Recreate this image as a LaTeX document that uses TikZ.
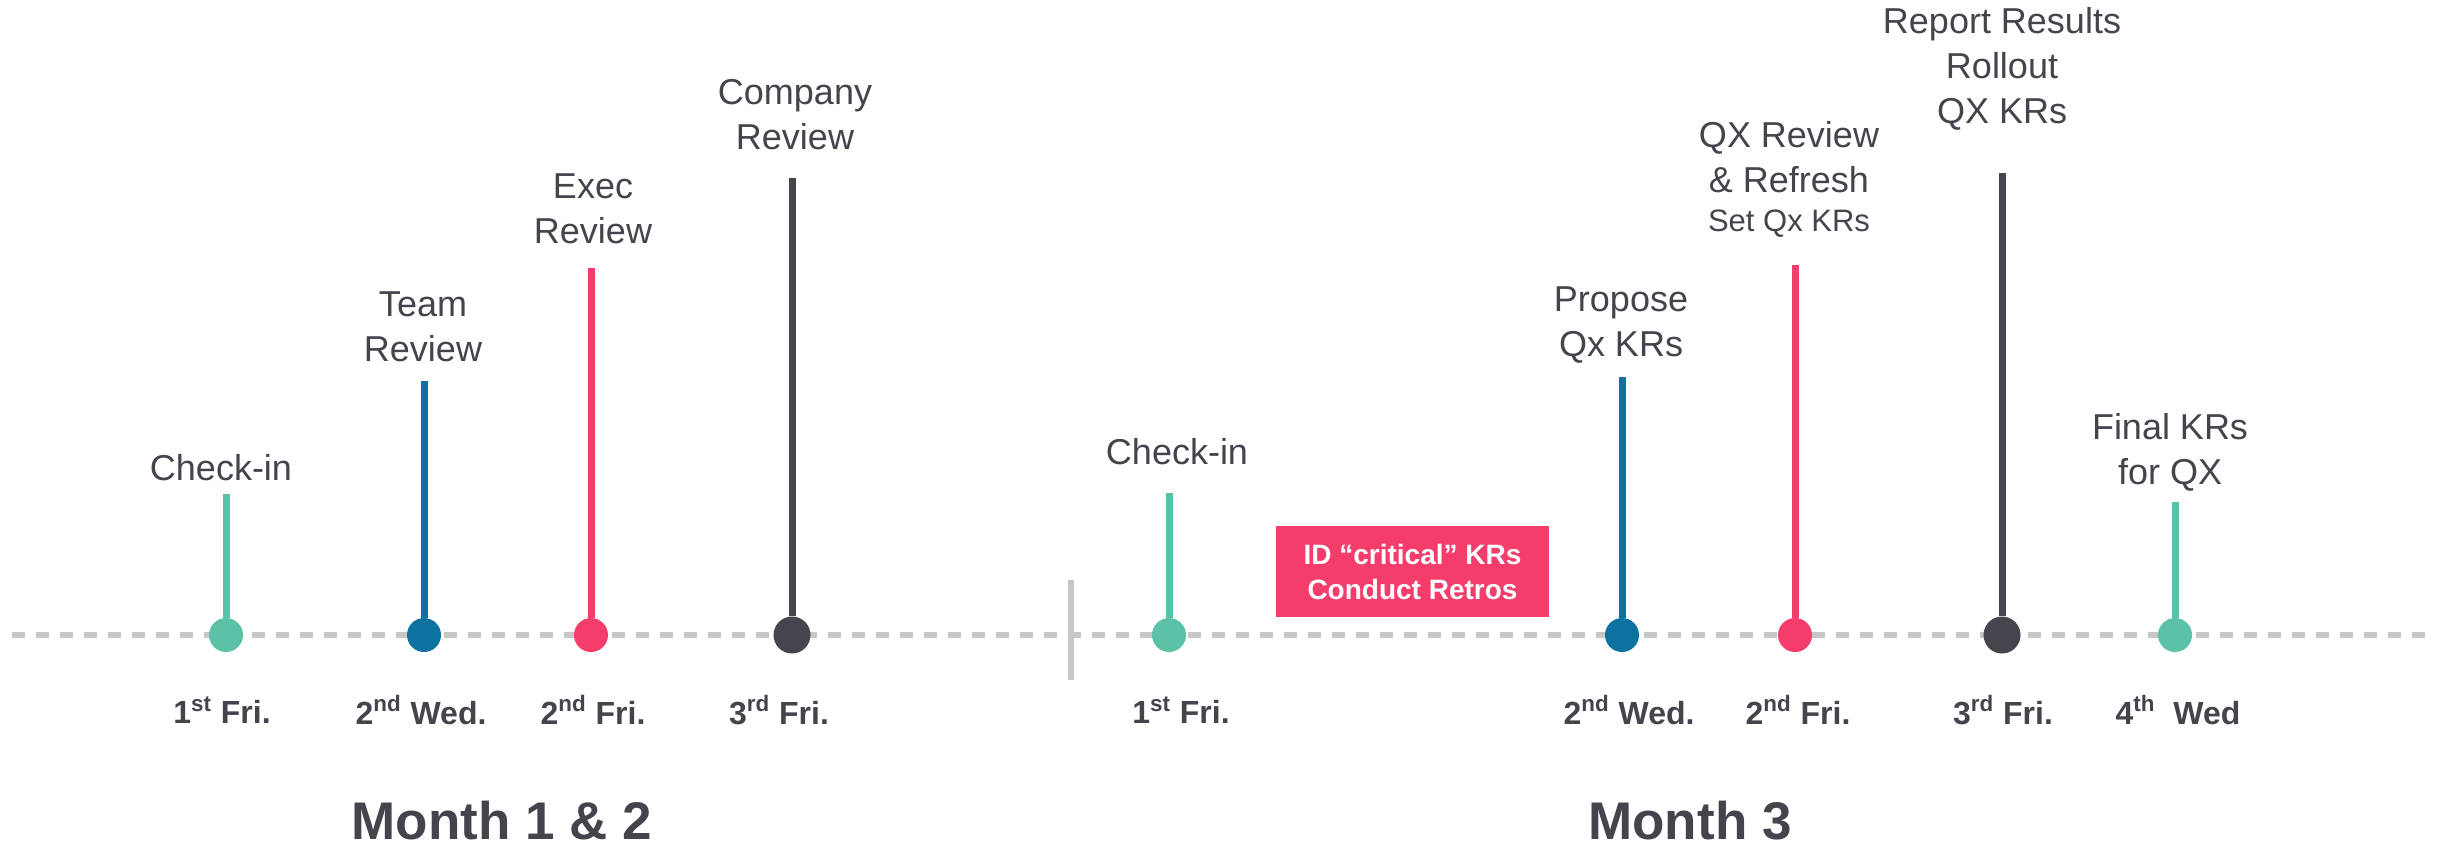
\documentclass[tikz,border=0pt]{standalone}
\usepackage{fontspec}
\setmainfont{Liberation Sans}
\definecolor{tealdot}{HTML}{5BC2A7}
\definecolor{bluedot}{HTML}{0E72A0}
\definecolor{pinkdot}{HTML}{F53D6B}
\definecolor{darkdot}{HTML}{46454E}
\definecolor{maintext}{HTML}{45444D}
\colorlet{axisgray}{black!22}
% name, x, stem top, colour, dot size
\newcommand{\mstone}[5]{%
  \node[dot, fill=#4, minimum size=#5] (#1) at (#2,635) {};
  \coordinate (#1top) at (#2,#3);
  \draw[line width=3.5pt, #4] (#1) -- (#1top);
}

\begin{document}
\begin{tikzpicture}[x=0.5pt, y=-0.5pt,
    dot/.style={circle, inner sep=0pt, draw=none},
    lbl/.style={align=center, text=maintext, inner sep=0pt, font=\fontsize{18}{22.5}\selectfont},
    datelbl/.style={text=maintext, inner sep=0pt, font=\fontsize{16}{19}\selectfont\bfseries},
    monthlbl/.style={text=maintext, inner sep=0pt, font=\fontsize{26.5}{32}\selectfont\bfseries},
    critbox/.style={fill=pinkdot, text=white, align=center, inner sep=0pt,
      minimum width=136.5pt, minimum height=45.5pt, font=\fontsize{14}{17.5}\selectfont\bfseries}]
    \useasboundingbox (0,0) rectangle (2445,848);

    % time line
    \coordinate (axisL) at (12,635);
    \coordinate (axisR) at (2429,635);
    \draw[axisgray, line width=3pt, dash pattern=on 6.5pt off 5.5pt] (axisL) -- (axisR);
    \coordinate (sepT) at (1071,580);
    \coordinate (sepB) at (1071,680);
    \draw[axisgray, line width=3pt] (sepT) -- (sepB);

    % Month 1 & 2
    \mstone{m1}{226}{494}{tealdot}{17pt}
    \mstone{m2}{424}{381}{bluedot}{17pt}
    \mstone{m3}{591}{268}{pinkdot}{17pt}
    \mstone{m4}{792}{178}{darkdot}{18.5pt}
    \node[lbl] (m1lbl) at (221,468) {Check-in};
    \node[lbl] (m2lbl) at (423,327) {Team\\Review};
    \node[lbl] (m3lbl) at (593,209) {Exec\\Review};
    \node[lbl] (m4lbl) at (795,115) {Company\\Review};
    \node[datelbl] (m1day) at (222,710) {1\textsuperscript{st} Fri.};
    \node[datelbl] (m2day) at (421,710) {2\textsuperscript{nd} Wed.};
    \node[datelbl] (m3day) at (593,710) {2\textsuperscript{nd} Fri.};
    \node[datelbl] (m4day) at (779,710) {3\textsuperscript{rd} Fri.};
    \node[monthlbl] (month12) at (502,821) {Month 1 \& 2};

    % Month 3
    \mstone{m5}{1169}{493}{tealdot}{17pt}
    \mstone{m6}{1622}{377}{bluedot}{17pt}
    \mstone{m7}{1795}{265}{pinkdot}{17pt}
    \mstone{m8}{2002}{173}{darkdot}{18.5pt}
    \mstone{m9}{2175}{502}{tealdot}{17pt}
    \node[critbox] (crit) at (1412.5,571.5) {ID “critical” KRs\\Conduct Retros};
    \node[lbl] (m5lbl) at (1177,452) {Check-in};
    \node[lbl] (m6lbl) at (1621,325) {Propose\\Qx KRs};
    \node[lbl] (m7lbl) at (1789,179) {QX Review\\\& Refresh\\[-3pt]{\fontsize{15.5}{17}\selectfont Set Qx KRs}};
    \node[lbl] (m8lbl) at (2002,69) {Report Results\\Rollout\\QX KRs};
    \node[lbl] (m9lbl) at (2170,452) {Final KRs\\for QX};
    \node[datelbl] (m5day) at (1181,710) {1\textsuperscript{st} Fri.};
    \node[datelbl] (m6day) at (1629,710) {2\textsuperscript{nd} Wed.};
    \node[datelbl] (m7day) at (1798,710) {2\textsuperscript{nd} Fri.};
    \node[datelbl] (m8day) at (2003,710) {3\textsuperscript{rd} Fri.};
    \node[datelbl] (m9day) at (2178,710) {4\textsuperscript{th}~~Wed};
    \node[monthlbl] (month3) at (1690,821) {Month 3};
\end{tikzpicture}
\end{document}
